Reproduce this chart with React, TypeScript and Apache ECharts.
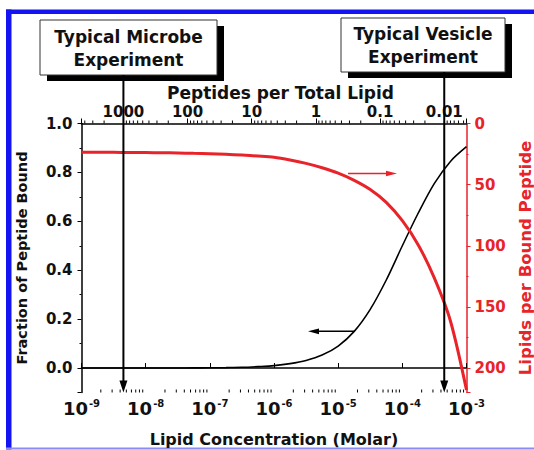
import React, { useEffect, useRef } from 'react';
import * as echarts from 'echarts';

const FONT = "'DejaVu Sans', 'Liberation Sans', Arial, sans-serif";
const RED = '#e8232a';
const INK = '#111111';
const BLUE = '#1414f2';

// Lipid concentration (Molar), read every quarter decade
const concentration = [
  1e-9, 1.78e-9, 3.16e-9, 5.62e-9,
  1e-8, 1.78e-8, 3.16e-8, 5.62e-8,
  1e-7, 1.78e-7, 3.16e-7, 5.62e-7,
  1e-6, 1.78e-6, 3.16e-6, 5.62e-6,
  1e-5, 1.78e-5, 3.16e-5, 5.62e-5,
  1e-4, 1.78e-4, 3.16e-4, 5.62e-4,
  1e-3,
];
// Fraction of peptide bound (left axis, black)
const fractionBound = [
  0, 0, 0, 0,
  0, 0.0002, 0.0003, 0.0006,
  0.001, 0.0018, 0.003, 0.006,
  0.01, 0.018, 0.031, 0.053,
  0.09, 0.15, 0.24, 0.36,
  0.5, 0.635, 0.755, 0.845,
  0.905,
];
// Lipids per bound peptide (right axis, red, inverted)
const lipidsPerBoundPeptide = [
  23.5, 23.5, 23.6, 23.7,
  23.8, 23.9, 24.1, 24.4,
  24.7, 25.2, 25.8, 26.6,
  27.6, 29.8, 32.6, 36.2,
  40.6, 46.5, 54, 64.5,
  79.5, 99.5, 126.5, 161.5,
  218,
];

// Peptide concentration that links the two x axes: peptides per lipid = P / L
const peptideConcentration = 4.5e-6;

// Experiments marked by the vertical arrows
const experimentNames = ['Typical Microbe\nExperiment', 'Typical Vesicle\nExperiment'];
const experimentConcentration = [4.5e-9, 4.5e-4];

// Small hint arrows: [fromConcentration, value, toConcentration]
const redHintArrow = [[1.42e-5, 40.9, 8.26e-5]];
const blackHintArrow = [[1.83e-5, 0.15, 3.39e-6]];

// Log minor tick helpers
const bottomDecades = [-9, -8, -7, -6, -5, -4];
const topDecades = [-3, -2, -1, 0, 1, 2, 3];
const minorMultipliers = [2, 3, 4, 5, 6, 7, 8, 9];

// Layout (pixels)
const GRID = { left: 81.5, top: 123.5, width: 385, height: 269 };
const BOXES = [
  { x: 40, y: 20, w: 177, h: 55 },
  { x: 341, y: 18, w: 164, h: 54 },
];

const isPow10 = (v: number) => {
  const e = Math.log10(v);
  return Math.abs(e - Math.round(e)) < 1e-6;
};

export default function App() {
  const ref = useRef<HTMLDivElement>(null);

  useEffect(() => {
    if (!ref.current) return;
    const chart = echarts.init(ref.current, undefined, { renderer: 'svg' });

    const topMin = peptideConcentration / 1e-3;
    const topMax = peptideConcentration / 1e-9;

    const bottomMinor: number[][] = [];
    bottomDecades.forEach((e) =>
      minorMultipliers.forEach((m) => bottomMinor.push([m * Math.pow(10, e), 0.5]))
    );
    const topMinor: number[][] = [];
    topDecades.forEach((e) =>
      minorMultipliers.forEach((m) => {
        const v = m * Math.pow(10, e);
        if (v > topMin && v < topMax) topMinor.push([v, 0.5]);
      })
    );

    const tickRender = (top: boolean) => (params: any, api: any) => {
      const cs = params.coordSys;
      const x = api.coord([api.value(0), 0.5])[0];
      const y0 = top ? cs.y : cs.y + cs.height;
      return {
        type: 'line',
        shape: { x1: x, y1: y0, x2: x, y2: y0 - 3 },
        style: { stroke: '#000', lineWidth: 1 },
      };
    };

    const hintRender = (color: string, width: number) => (params: any, api: any) => {
      const p1 = api.coord([api.value(0), api.value(1)]);
      const p2 = api.coord([api.value(2), api.value(1)]);
      const dir = p2[0] > p1[0] ? 1 : -1;
      const L = 11;
      const hw = 2.8;
      return {
        type: 'group',
        children: [
          {
            type: 'line',
            shape: { x1: p1[0], y1: p1[1], x2: p2[0] - dir * L, y2: p2[1] },
            style: { stroke: color, lineWidth: width },
          },
          {
            type: 'polygon',
            shape: {
              points: [
                [p2[0], p2[1]],
                [p2[0] - dir * L, p2[1] - hw],
                [p2[0] - dir * L, p2[1] + hw],
              ],
            },
            style: { fill: color },
          },
        ],
      };
    };

    const graphic: any[] = [
      { type: 'rect', shape: { x: 6, y: 9.5, width: 528, height: 4.5 }, style: { fill: BLUE }, silent: true },
      { type: 'rect', shape: { x: 6, y: 9.5, width: 5.5, height: 440 }, style: { fill: BLUE }, silent: true },
      { type: 'rect', shape: { x: 6, y: 447.5, width: 528, height: 2 }, style: { fill: '#8c8cf5' }, silent: true },
    ];
    BOXES.forEach((b, i) => {
      graphic.push({
        type: 'rect',
        shape: { x: b.x + 7, y: b.y + 6, width: b.w, height: b.h },
        style: { fill: '#000' },
        silent: true,
      });
      graphic.push({
        type: 'rect',
        shape: { x: b.x, y: b.y, width: b.w, height: b.h },
        style: { fill: '#fff', stroke: '#333', lineWidth: 1 },
        silent: true,
      });
      graphic.push({
        type: 'text',
        x: b.x + b.w / 2,
        y: b.y + b.h / 2 + 0.7,
        silent: true,
        style: {
          text: experimentNames[i],
          fontFamily: FONT,
          fontWeight: 'bold',
          fontSize: 17,
          lineHeight: 23,
          fill: INK,
          align: 'center',
          verticalAlign: 'middle',
        },
      });
    });

    const boldLabel = { fontFamily: FONT, fontWeight: 'bold' as const, color: INK };

    chart.setOption({
      animation: false,
      backgroundColor: '#fff',
      grid: {
        left: GRID.left,
        top: GRID.top,
        width: GRID.width,
        height: GRID.height,
        containLabel: false,
        outerBoundsMode: 'none',
      },
      xAxis: [
        {
          type: 'log',
          logBase: 10,
          min: 1e-9,
          max: 1e-3,
          position: 'bottom',
          name: 'Lipid Concentration (Molar)',
          nameLocation: 'middle',
          nameGap: 39,
          nameMoveOverlap: false,
          nameTextStyle: { ...boldLabel, fontSize: 16 },
          axisLine: { show: true, lineStyle: { color: '#000', width: 1.5 } },
          axisTick: { show: true, inside: true, length: 5, lineStyle: { color: '#000', width: 1 } },
          splitLine: { show: false },
          axisLabel: {
            interval: 0,
            margin: 6,
            formatter: (v: number) =>
              isPow10(v) ? `{b|10}{s|${Math.round(Math.log10(v))}}` : '',
            rich: {
              b: { ...boldLabel, fontSize: 18, lineHeight: 20 },
              s: { ...boldLabel, fontSize: 10, verticalAlign: 'top', padding: [0, 0, 0, 1] },
            },
          },
        },
        {
          type: 'log',
          logBase: 10,
          min: topMin,
          max: topMax,
          inverse: true,
          position: 'top',
          name: 'Peptides per Total Lipid',
          nameLocation: 'middle',
          nameGap: 22,
          nameMoveOverlap: false,
          nameTextStyle: { ...boldLabel, fontSize: 17, padding: [0, 0, 0, 13] },
          axisLine: { show: true, lineStyle: { color: '#000', width: 1.5 } },
          axisTick: { show: true, inside: false, length: 5, lineStyle: { color: '#000', width: 1 } },
          splitLine: { show: false },
          axisLabel: {
            ...boldLabel,
            fontSize: 15,
            interval: 0,
            margin: 4,
            formatter: (v: number) => {
              if (!isPow10(v)) return '';
              const e = Math.round(Math.log10(v));
              return e >= 0 ? String(Math.pow(10, e)) : Math.pow(10, e).toFixed(-e);
            },
          },
        },
      ],
      yAxis: [
        {
          type: 'value',
          min: -0.1,
          max: 1.0,
          position: 'left',
          name: 'Fraction of Peptide Bound',
          nameLocation: 'middle',
          nameGap: 52,
          nameMoveOverlap: false,
          nameTextStyle: { ...boldLabel, fontSize: 14.5 },
          axisLine: { show: true, lineStyle: { color: '#000', width: 1.5 } },
          axisTick: { show: true, inside: false, length: 4, lineStyle: { color: '#000', width: 1 } },
          minorTick: { show: true, splitNumber: 2, length: 2, lineStyle: { color: '#000', width: 1 } },
          splitLine: { show: false },
          minorSplitLine: { show: false },
          axisLabel: {
            ...boldLabel,
            fontSize: 15,
            margin: 9,
            formatter: (v: number) => (v < -0.001 ? '' : v.toFixed(1)),
          },
        },
        {
          type: 'value',
          min: 0,
          max: 220,
          interval: 50,
          inverse: true,
          position: 'right',
          name: 'Lipids per Bound Peptide',
          nameLocation: 'middle',
          nameGap: 50,
          nameMoveOverlap: false,
          nameTextStyle: { fontFamily: FONT, fontWeight: 'bold', color: RED, fontSize: 16.5 },
          axisLine: { show: true, lineStyle: { color: RED, width: 1.5 } },
          axisTick: { show: true, inside: false, length: 4, lineStyle: { color: RED, width: 1 } },
          minorTick: { show: true, splitNumber: 2, length: 2, lineStyle: { color: RED, width: 1 } },
          splitLine: { show: false },
          minorSplitLine: { show: false },
          axisLabel: {
            fontFamily: FONT,
            fontWeight: 'bold',
            color: RED,
            fontSize: 15,
            margin: 8,
            formatter: (v: number) => (v % 50 === 0 ? String(v) : ''),
          },
        },
      ],
      graphic,
      series: [
        {
          name: 'Fraction of Peptide Bound',
          type: 'line',
          xAxisIndex: 0,
          yAxisIndex: 0,
          data: concentration.map((c, i) => [c, fractionBound[i]]),
          smooth: 0.3,
          showSymbol: false,
          symbol: 'none',
          lineStyle: { color: '#000', width: 1.6 },
          z: 3,
        },
        {
          name: 'Lipids per Bound Peptide',
          type: 'line',
          xAxisIndex: 0,
          yAxisIndex: 1,
          data: concentration.map((c, i) => [c, lipidsPerBoundPeptide[i]]),
          smooth: 0.3,
          showSymbol: false,
          symbol: 'none',
          lineStyle: { color: RED, width: 3 },
          z: 3,
        },
        {
          type: 'custom',
          name: 'bottomMinorTicks',
          xAxisIndex: 0,
          yAxisIndex: 0,
          silent: true,
          clip: false,
          data: bottomMinor,
          renderItem: tickRender(false),
        },
        {
          type: 'custom',
          name: 'topMinorTicks',
          xAxisIndex: 1,
          yAxisIndex: 0,
          silent: true,
          clip: false,
          data: topMinor,
          renderItem: tickRender(true),
        },
        {
          type: 'custom',
          name: 'experimentArrows',
          xAxisIndex: 0,
          yAxisIndex: 0,
          silent: true,
          clip: false,
          z: 5,
          data: experimentConcentration.map((c) => [c, 0]),
          renderItem: (params: any, api: any) => {
            const cs = params.coordSys;
            const x = api.coord([api.value(0), 0])[0];
            const b = BOXES[params.dataIndex];
            const yTop = b.y + b.h;
            const yTip = cs.y + cs.height;
            return {
              type: 'group',
              children: [
                { type: 'line', shape: { x1: x, y1: yTop, x2: x, y2: yTip - 10 }, style: { stroke: '#000', lineWidth: 2 } },
                {
                  type: 'polygon',
                  shape: { points: [[x - 4, yTip - 12], [x + 4, yTip - 12], [x, yTip]] },
                  style: { fill: '#000' },
                },
              ],
            };
          },
        },
        {
          type: 'custom',
          name: 'redHint',
          xAxisIndex: 0,
          yAxisIndex: 1,
          silent: true,
          clip: false,
          data: redHintArrow,
          renderItem: hintRender(RED, 1.5),
        },
        {
          type: 'custom',
          name: 'blackHint',
          xAxisIndex: 0,
          yAxisIndex: 0,
          silent: true,
          clip: false,
          data: blackHintArrow,
          renderItem: hintRender('#000', 1.5),
        },
      ],
    } as any);

    return () => chart.dispose();
  }, []);

  return (
    <div
      ref={ref}
      style={{ position: 'fixed', left: 0, top: 0, width: 534, height: 450, background: '#fff' }}
    />
  );
}
